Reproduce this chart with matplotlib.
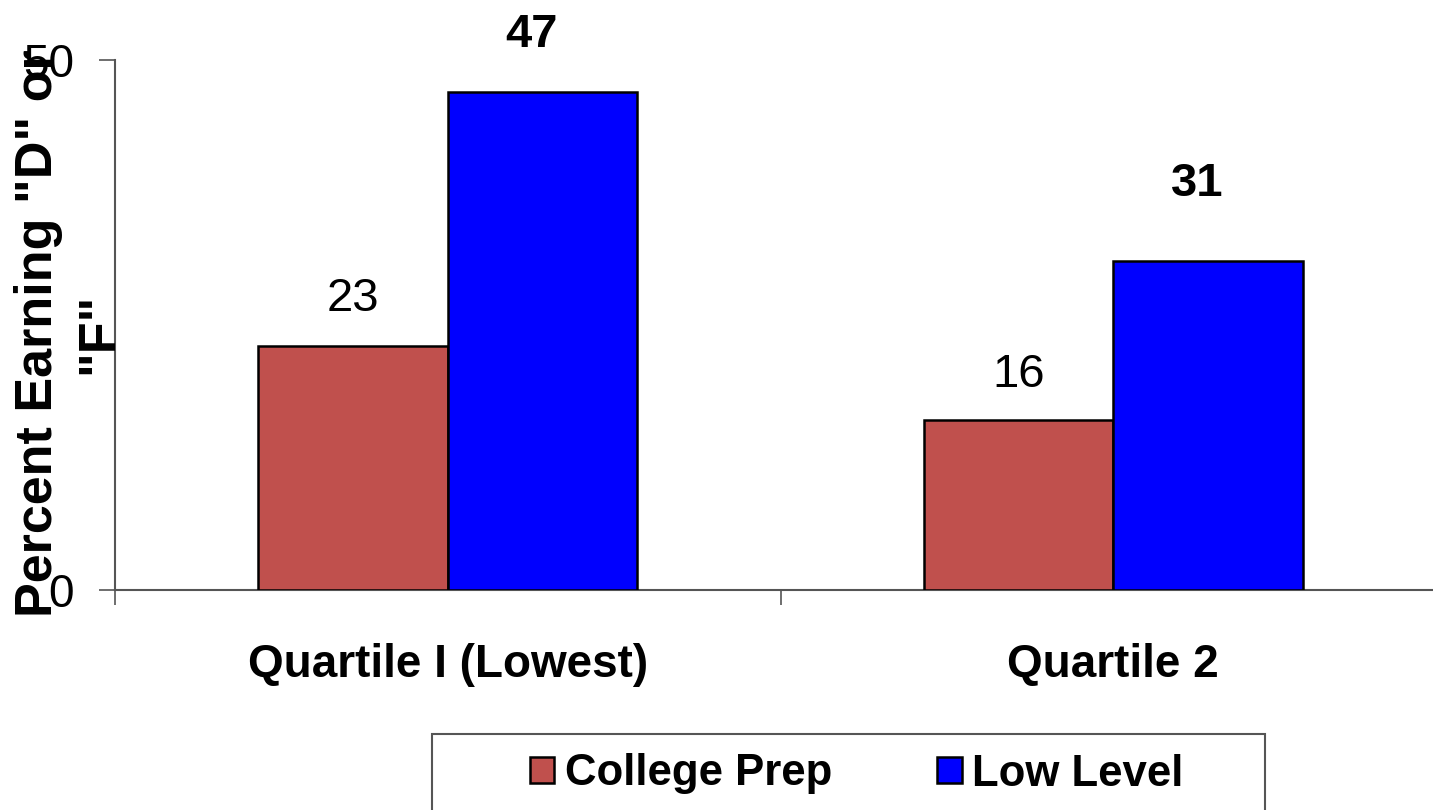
import numpy as np
import matplotlib
matplotlib.use("Agg")
import matplotlib.pyplot as plt
from matplotlib.patches import Rectangle

plt.rcParams['font.family'] = ['Liberation Sans', 'DejaVu Sans']

# data
categories = ['Quartile I (Lowest)', 'Quartile 2']
college_prep = [23, 16]
low_level = [47, 31]
series_names = ['College Prep', 'Low Level']

red = '#C0504D'
blue = '#0000FF'
axis_grey = '#555555'

fig = plt.figure(figsize=(14.33, 8.1), dpi=100)
ax = fig.add_axes([115 / 1433, 220 / 810, 1331 / 1433, 530 / 810])

x = np.arange(len(categories))
w = 0.285
b1 = ax.bar(x - w / 2, college_prep, w, color=red, edgecolor='black', linewidth=1.8,
            label=series_names[0], zorder=3)
b2 = ax.bar(x + w / 2, low_level, w, color=blue, edgecolor='black', linewidth=1.8,
            label=series_names[1], zorder=3)

# value labels (red normal, blue bold)
red_gap = [25, 24]
blue_gap = [32, 47]
for xi, v, g in zip(x - w / 2, college_prep, red_gap):
    ax.annotate(str(v), (xi, v), xytext=(0, g), textcoords='offset points',
                ha='center', va='baseline', fontsize=34, annotation_clip=False)
for xi, v, g in zip(x + w / 2, low_level, blue_gap):
    ax.annotate(str(v), (xi, v), xytext=(-8, g), textcoords='offset points',
                ha='center', va='baseline', fontsize=34, fontweight='bold',
                annotation_clip=False)

ax.set_xlim(-0.5, 1.5)
ax.set_ylim(0, 50)

for s in ['top', 'right']:
    ax.spines[s].set_visible(False)
for s in ['left', 'bottom']:
    ax.spines[s].set_color(axis_grey)
    ax.spines[s].set_linewidth(1.5)

ax.set_yticks([0, 50])
ax.set_yticklabels(['0', '50'], fontsize=33)
ax.tick_params(axis='y', direction='out', length=11.5, width=1.2, color=axis_grey, pad=18)

ax.set_xticks(x)
ax.set_xticklabels(categories, fontsize=33, fontweight='bold')
ax.set_xticks([-0.5, 0.5, 1.5], minor=True)
ax.tick_params(axis='x', which='major', length=0, pad=38)
ax.tick_params(axis='x', which='minor', direction='out', length=11, width=1.2, color=axis_grey)

# y label sits over the tick labels, as in the original
fig.text(69 / 1433, (810 - 333) / 810, 'Percent Earning "D" or\n"F"', rotation=90,
         ha='center', va='center', multialignment='center', fontsize=37.5,
         fontweight='bold', linespacing=1.3)

# legend box (cut off at the bottom of the picture)
fig.patches.append(Rectangle((432 / 1433, -0.05), (1265 - 432) / 1433, (810 - 734) / 810 + 0.05,
                             transform=fig.transFigure, fill=False, edgecolor=axis_grey,
                             linewidth=1.5))
fig.legend(handles=[b1, b2], labels=series_names, loc='center',
           bbox_to_anchor=(857 / 1433, (810 - 774) / 810), ncol=2, frameon=False,
           prop={'size': 31.5, 'weight': 'bold'}, handlelength=0.55, handleheight=0.55,
           handletextpad=0.25, columnspacing=2.4)

fig.savefig('out.png', dpi=100)
